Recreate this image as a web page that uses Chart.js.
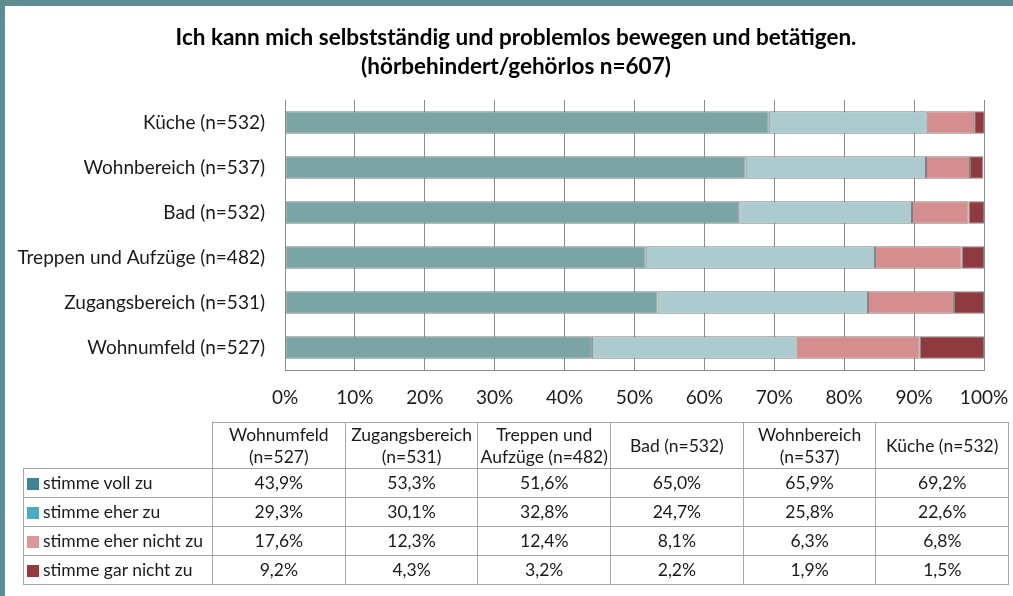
<!DOCTYPE html>
<html lang="de">
<head>
<meta charset="utf-8">
<script src="https://cdn.jsdelivr.net/npm/chart.js@4/dist/chart.umd.min.js"></script>
<style>
    html, body { margin: 0; padding: 0; background: #fff; }
    #wrap { position: relative; width: 1013px; height: 596px; overflow: hidden; }
    #chart { position: absolute; left: 0; top: 0; }
    .edge { position: absolute; background: #5f8e92; }
    #title {
        position: absolute; left: 0; top: 22px; width: 1032px; text-align: center;
        font-family: Lato, "Open Sans", sans-serif; font-size: 22.5px; font-weight: bold;
        line-height: 29px; color: #000;
    }
    #dataTable {
        position: absolute; left: 23px; top: 422px;
        border-collapse: collapse; table-layout: fixed;
        font-family: Lato, "Open Sans", sans-serif; font-size: 17.5px; color: #1a1a1a;
    }
    #dataTable td, #dataTable th {
        border: 1px solid #a6a6a6; text-align: center; font-weight: normal;
        padding: 0; height: 28px; line-height: 22px;
    }
    #dataTable th { height: 45px; }
    #dataTable th.blank { border: none; }
    #dataTable td.lab { text-align: left; padding-left: 3px; white-space: nowrap; }
    .swatch { display: inline-block; width: 12px; height: 12px; margin-right: 4px; vertical-align: -1px; }
</style>
</head>
<body>
<div id="wrap">
    <canvas id="chart" width="1013" height="596"></canvas>
    <div id="title"></div>
    <table id="dataTable"></table>
    <div class="edge" style="left:0;top:0;width:1013px;height:6px"></div>
    <div class="edge" style="left:0;top:0;width:5px;height:596px"></div>
</div>
<script>
const titleLines = ["Ich kann mich selbstständig und problemlos bewegen und betätigen.", "(hörbehindert/gehörlos n=607)"];

// categories in table order (bottom to top in the bars)
const categories = ["Wohnumfeld (n=527)", "Zugangsbereich (n=531)", "Treppen und Aufzüge (n=482)", "Bad (n=532)", "Wohnbereich (n=537)", "Küche (n=532)"];
const headerLines = [["Wohnumfeld", "(n=527)"], ["Zugangsbereich", "(n=531)"], ["Treppen und", "Aufzüge (n=482)"], ["Bad (n=532)"], ["Wohnbereich", "(n=537)"], ["Küche (n=532)"]];

const seriesNames = ["stimme voll zu", "stimme eher zu", "stimme eher nicht zu", "stimme gar nicht zu"];
const vollZu = [43.9, 53.3, 51.6, 65.0, 65.9, 69.2];
const eherZu = [29.3, 30.1, 32.8, 24.7, 25.8, 22.6];
const eherNicht = [17.6, 12.3, 12.4, 8.1, 6.3, 6.8];
const garNicht = [9.2, 4.3, 3.2, 2.2, 1.9, 1.5];

const xTicks = [0, 10, 20, 30, 40, 50, 60, 70, 80, 90, 100];

const barColors = ["#7ba4a5", "#abcbce", "#d48e8f", "#8e3a3e"];
const keyColors = ["#3f8595", "#4aabc1", "#d9999a", "#953a3f"];
const seriesData = [vollZu, eherZu, eherNicht, garNicht];

const fontFamily = "Lato, 'Open Sans', sans-serif";

document.getElementById("title").innerHTML = titleLines.join("<br>");

const datasets = seriesNames.map((name, i) => ({
    label: name,
    data: seriesData[i],
    backgroundColor: barColors[i],
    borderColor: "#7f7f7f",
    borderWidth: 1,
    borderSkipped: false,
    categoryPercentage: 1,
    barPercentage: 0.5
}));

new Chart(document.getElementById("chart"), {
    type: "bar",
    data: { labels: categories, datasets: datasets },
    options: {
        indexAxis: "y",
        responsive: false,
        animation: false,
        layout: { padding: { left: 0, right: 29, top: 100, bottom: 181 } },
        plugins: {
            legend: { display: false },
            tooltip: { enabled: false },
            title: { display: false }
        },
        scales: {
            x: {
                stacked: true,
                min: 0,
                max: 100,
                afterBuildTicks: scale => { scale.ticks = xTicks.map(v => ({ value: v })); },
                afterFit: scale => {
                    scale.height = 45;
                    scale.paddingLeft = 0;
                    scale.paddingRight = 0;
                },
                grid: { color: "#8c8c8c", drawTicks: false },
                border: { color: "#8c8c8c" },
                ticks: {
                    padding: 16,
                    color: "#1a1a1a",
                    font: { family: fontFamily, size: 19 },
                    callback: v => v + "%"
                }
            },
            y: {
                stacked: true,
                reverse: true,
                afterFit: scale => { scale.width = 285; },
                grid: { display: false, drawTicks: false },
                border: { color: "#8c8c8c" },
                ticks: {
                    padding: 20,
                    color: "#1a1a1a",
                    font: { family: fontFamily, size: 19 }
                }
            }
        }
    }
});

// data table under the chart
const table = document.getElementById("dataTable");
let html = "<colgroup><col style='width:189px'>" + categories.map(() => "<col style='width:132.7px'>").join("") + "</colgroup>";
html += "<tr><th class='blank'></th>" + headerLines.map(l => "<th>" + l.join("<br>") + "</th>").join("") + "</tr>";
seriesNames.forEach((name, i) => {
    html += "<tr><td class='lab'><span class='swatch' style='background:" + keyColors[i] + "'></span>" + name + "</td>";
    html += seriesData[i].map(v => "<td>" + v.toFixed(1).replace(".", ",") + "%</td>").join("");
    html += "</tr>";
});
table.innerHTML = html;
</script>
</body>
</html>
